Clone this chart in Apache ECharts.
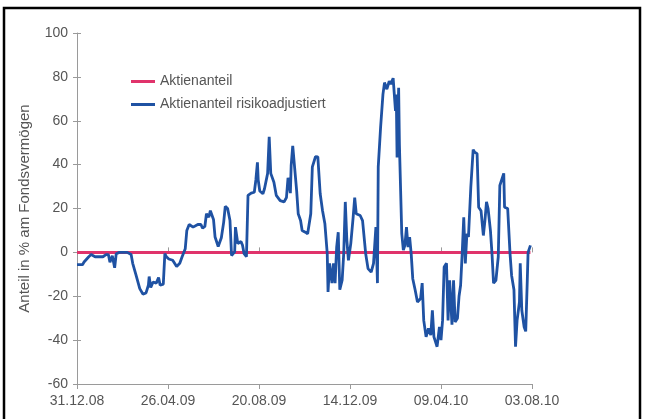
<!DOCTYPE html>
<html>
<head>
<meta charset="utf-8">
<script src="https://cdn.jsdelivr.net/npm/echarts@6/dist/echarts.min.js"></script>
<style>
  html, body { margin: 0; padding: 0; background: #fff; }
  #chart { width: 645px; height: 419px; }
</style>
</head>
<body>
<div id="chart"></div>
<script>
// x-Achse: Tage seit 31.12.08, Beschriftung alle 116 Tage
var dateLabels = ["31.12.08", "26.04.09", "20.08.09", "14.12.09", "09.04.10", "03.08.10"];
var seriesNames = ["Aktienanteil", "Aktienanteil risikoadjustiert"];

var aktienDays = [0, 578];
var aktienVals = [0, 0];

var risikoDays = [0, 2, 7, 9, 15, 18, 23, 33, 37, 40, 42, 45, 48, 50, 54, 64, 69, 71, 75, 80,
  84, 88, 91, 92, 94, 97, 101, 104, 106, 110, 112, 114, 117, 122, 127, 131, 134, 138, 140, 143,
  148, 154, 158, 160, 163, 165, 168, 170, 174, 176, 180, 184, 187, 189, 192, 195, 197, 199, 201, 202,
  205, 206, 209, 211, 213, 216, 218, 222, 226, 228, 230, 231, 233, 237, 239, 243, 245, 247, 251, 254,
  259, 264, 267, 269, 272, 273, 275, 277, 280, 282, 285, 287, 291, 294, 298, 300, 304, 306, 307, 310,
  313, 316, 319, 320, 322, 325, 327, 329, 331, 333, 335, 338, 340, 342, 344, 346, 349, 352, 354, 356,
  361, 364, 368, 371, 375, 378, 381, 383, 384, 387, 390, 392, 395, 398, 400, 403, 404, 406, 407, 408,
  410, 411, 414, 416, 418, 420, 422, 424, 426, 428, 431, 434, 438, 440, 442, 445, 448, 451, 453, 455,
  459, 462, 464, 466, 468, 471, 473, 475, 478, 480, 482, 485, 487, 489, 491, 493, 495, 497, 499, 502,
  505, 507, 510, 512, 515, 518, 520, 522, 524, 527, 529, 531, 534, 537, 539, 541, 544, 545, 549, 552,
  554, 557, 559, 561, 564, 565, 567, 570, 572, 574, 575, 578];
var risikoVals = [-5.6, -5.6, -5.6, -4.4, -2, -1, -2, -2, -1, -1, -4.5, -1.5, -7, -0.6, 0, 0, -1, -5, -10, -16.5,
  -19, -18.5, -15, -11, -16, -13.5, -14, -11.5, -15, -14.5, -0.6, -2, -3, -3.6, -6.4, -5, -2, 1.7, 10, 12.7,
  11.5, 12.7, 12.7, 11, 11.8, 17.6, 16, 19, 15, 7, 2.7, 6.7, 13.8, 21, 20, 14.5, -1.4, -1.4, 0.2, 11.5,
  4, 3.2, 5, 3.2, -0.6, -2, 26, 27, 27.4, 33, 41, 33, 28, 26.7, 29, 36, 52.7, 36, 32, 26,
  23.6, 23, 25, 34, 27, 39.5, 48.6, 48, 28, 17.6, 14.5, 10, 9.2, 8.5, 17.6, 39, 43.6, 44, 43.5, 26.7,
  19, 13, -0.6, -18, -5, -14, -5, -14, 2.4, 9.2, -17, -12.7, -0.6, 23, 5.5, -3.6, 4, 16, 25, 17.6,
  16.8, 14.5, -0.6, -7.4, -9, -5, 11.5, -14, 39, 57, 72, 77.4, 74.4, 78, 76.7, 79.4, 79, 64.5, 72, 43.3,
  75, 49, 8.5, 1, 3.2, 11.5, 2.4, 7, -0.6, -12, -17, -22.6, -21, -14, -31, -38.5, -34.7, -37.7, -26.4, -38.5,
  -43, -34, -40, -31, -6.7, -5, -31, -12.7, -33, -12.7, -31.7, -30, -20, -15, -0.6, 16, -5, 8.5, 7, 29.7,
  46.8, 45.6, 45, 20.6, 19, 7.7, 14.5, 23, 20, 10, -0.6, -14, -12.7, -2, 30.5, 31, 36, 20.6, 20, -0.6,
  -10.5, -17, -43, -31, -22.6, -5, -26.4, -34, -36, -12.7, 0, 3.2];

function pairs(days, vals) {
  var out = [];
  for (var i = 0; i < days.length; i++) {
    out.push([days[i], vals[i]]);
  }
  return out;
}

var textColor = "#555";
var axisColor = "#9a9a9a";
var fontFamily = "Liberation Sans, Arial, sans-serif";

var myChart = echarts.init(document.getElementById("chart"));
var option = {
  animation: false,
  backgroundColor: "#fff",
  textStyle: { fontFamily: fontFamily },
  grid: { left: 77, right: 113, top: 33, bottom: 35 },
  legend: {
    orient: "vertical",
    left: 131,
    top: 74,
    padding: 0,
    itemWidth: 24,
    itemHeight: 3,
    itemGap: 8,
    icon: "rect",
    textStyle: { color: textColor, fontSize: 14, lineHeight: 15 },
    data: seriesNames
  },
  xAxis: [
    {
      type: "value",
      min: 0,
      max: 580,
      interval: 116,
      axisLine: { onZero: false, lineStyle: { color: axisColor } },
      axisTick: { length: 5, lineStyle: { color: axisColor } },
      splitLine: { show: false },
      axisLabel: {
        color: textColor,
        fontSize: 14,
        margin: 10,
        formatter: function (v) {
          return dateLabels[Math.round(v / 116)];
        }
      }
    },
    {
      // Ticks nach innen, damit sie die Achse kreuzen
      type: "value",
      position: "bottom",
      min: 0,
      max: 580,
      interval: 116,
      axisLine: { show: false },
      axisTick: { inside: true, length: 5, lineStyle: { color: axisColor } },
      axisLabel: { show: false },
      splitLine: { show: false }
    }
  ],
  yAxis: [
    {
      type: "value",
      min: -60,
      max: 100,
      interval: 20,
      name: "Anteil in % am Fondsvermögen",
      nameLocation: "middle",
      nameGap: 45,
      nameTextStyle: { color: textColor, fontSize: 15 },
      axisLine: { show: true, onZero: false, lineStyle: { color: axisColor } },
      axisTick: { show: true, length: 4, lineStyle: { color: axisColor } },
      splitLine: { show: false },
      axisLabel: { color: textColor, fontSize: 14, margin: 9 }
    },
    {
      type: "value",
      position: "left",
      min: -60,
      max: 100,
      interval: 20,
      axisLine: { show: false },
      axisTick: { show: true, inside: true, length: 4, lineStyle: { color: axisColor } },
      axisLabel: { show: false },
      splitLine: { show: false }
    }
  ],
  graphic: [
    {
      type: "rect",
      shape: { x: 4, y: 8, width: 636, height: 430 },
      style: { fill: null, stroke: "#000", lineWidth: 2.5 },
      silent: true
    }
  ],
  series: [
    {
      name: seriesNames[0],
      type: "line",
      symbol: "none",
      color: "#e0336b",
      lineStyle: { color: "#e0336b", width: 3 },
      data: pairs(aktienDays, aktienVals)
    },
    {
      name: seriesNames[1],
      type: "line",
      symbol: "none",
      color: "#1f52a3",
      lineStyle: { color: "#1f52a3", width: 2.8 },
      data: pairs(risikoDays, risikoVals)
    }
  ]
};
myChart.setOption(option);
</script>
</body>
</html>
